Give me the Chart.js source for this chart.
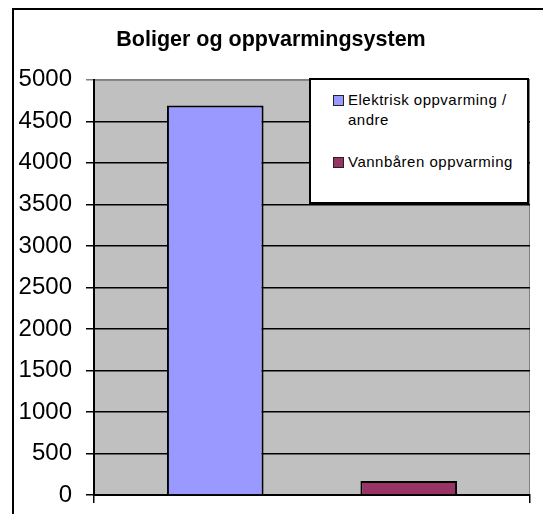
<!DOCTYPE html>
<html lang="no">
<head>
    <meta charset="UTF-8">
    <title>Boliger og oppvarmingsystem</title>
    <script src="https://cdn.jsdelivr.net/npm/chart.js"></script>
    <style>
        body { margin: 0; width: 543px; height: 514px; overflow: hidden; background: #fff; position: relative; }
        #frame { position: absolute; left: 12px; top: 8px; width: 600px; height: 600px; border: 2px solid #000; }
        #chart { position: absolute; left: 0; top: 0; }
        #legend {
            position: absolute; left: 309px; top: 78px; width: 216px; height: 122px;
            border: 2px solid #000; background: #fff;
            font-family: 'Liberation Sans', Arial, sans-serif; font-size: 15px; letter-spacing: 0.5px; color: #000;
        }
        .item { position: absolute; left: 0; width: 200px; line-height: 20px; }
        .box { position: absolute; left: 22px; top: 5px; width: 9px; height: 9px; border: 1px solid #222; }
        .text { position: absolute; left: 37px; width: 174px; }
    </style>
</head>
<body>
    <div id="frame"></div>
    <canvas id="chart" width="543" height="514"></canvas>
    <div id="legend"></div>
    <script>
        const categories = ['Elektrisk oppvarming / andre', 'Vannbåren oppvarming'];
        const seriesNames = ['Elektrisk oppvarming / andre', 'Vannbåren oppvarming'];
        const seriesValues = [4690, 170];
        const seriesColors = ['#9999ff', '#993366'];

        // legend drawn as html so it can sit over the plot like in the original
        const legend = document.getElementById('legend');
        const legendTops = [10, 72];
        seriesNames.forEach((name, i) => {
            const item = document.createElement('div');
            item.className = 'item';
            item.style.top = legendTops[i] + 'px';
            item.innerHTML = `<span class="box" style="background:${seriesColors[i]}"></span><span class="text">${name}</span>`;
            legend.appendChild(item);
        });

        // grey plot area + grey top/right border
        const plotArea = {
            id: 'plotArea',
            beforeDraw(chart) {
                const {ctx, chartArea: a} = chart;
                ctx.save();
                ctx.fillStyle = '#c0c0c0';
                ctx.fillRect(a.left, a.top, a.right - a.left, a.bottom - a.top);
                ctx.strokeStyle = '#808080';
                ctx.lineWidth = 1;
                ctx.beginPath();
                ctx.moveTo(a.left, a.top + 0.5);
                ctx.lineTo(a.right - 0.5, a.top + 0.5);
                ctx.lineTo(a.right - 0.5, a.bottom);
                ctx.stroke();
                ctx.restore();
            }
        };

        // one value per series, each in its own category;
        // vannbåren first so it takes the left slot of its category
        const datasets = seriesNames.map((name, i) => ({
            label: name,
            data: categories.map((c, j) => (j === i ? seriesValues[i] : null)),
            backgroundColor: seriesColors[i],
            borderColor: '#000',
            borderWidth: 2,
            categoryPercentage: 0.225,
            barPercentage: 3.94,
        })).reverse();

        const font = "'Liberation Sans', Arial, sans-serif";

        new Chart(document.getElementById('chart'), {
            type: 'bar',
            data: { labels: categories, datasets: datasets },
            options: {
                responsive: false,
                animation: false,
                layout: { padding: { left: 12, right: 13, top: 0, bottom: 11 } },
                plugins: {
                    legend: { display: false },
                    tooltip: { enabled: false },
                    title: {
                        display: true,
                        text: 'Boliger og oppvarmingsystem',
                        color: '#000',
                        font: { family: font, size: 21.5, weight: 'bold' },
                        padding: { top: 27, bottom: 27 }
                    }
                },
                scales: {
                    x: {
                        ticks: { display: false },
                        grid: {
                            drawOnChartArea: false,
                            drawTicks: true,
                            tickLength: 8,
                            lineWidth: 1.5,
                            color: (c) => (c.index === 1 ? 'rgba(0,0,0,0)' : '#000')
                        },
                        border: { display: true, color: '#000', width: 2 }
                    },
                    y: {
                        min: 0,
                        max: 5000,
                        ticks: {
                            stepSize: 500,
                            color: '#000',
                            padding: 14,
                            font: { family: font, size: 24 },
                            callback: (v) => String(v)
                        },
                        grid: {
                            color: (c) => (c.tick && c.tick.value === 5000 ? '#808080' : '#000'),
                            lineWidth: 1.5,
                            tickLength: 8
                        },
                        border: { display: true, color: '#000', width: 2 },
                        afterFit(scale) {
                            scale.width = 82;
                            scale.paddingTop = 0;
                            scale.paddingBottom = 0;
                        }
                    }
                }
            },
            plugins: [plotArea]
        });
    </script>
</body>
</html>
